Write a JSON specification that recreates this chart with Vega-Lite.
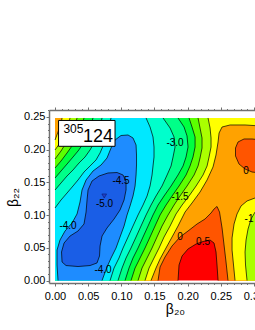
{
"$schema":"https://vega.github.io/schema/vega-lite/v6.json",
"width":206,"height":173,
"autosize":{"type":"none"},
"padding":{"left":49,"top":110,"right":0,"bottom":47},
"config":{"view":{"stroke":null},"font":"Liberation Sans","axis":{"domainColor":"#707070","tickColor":"#707070","labelColor":"#000","titleColor":"#000","grid":false,"labelFont":"Liberation Sans","titleFont":"Liberation Sans","titleFontWeight":"normal"}},
"resolve":{"axis":{"x":"independent","y":"independent"}},
"datasets":{
"poly":[
{"p":"b0","z":0.5,"o":1,"x":0,"y":0},{"p":"b0","z":0.5,"o":2,"x":0.3318,"y":0},{"p":"b0","z":0.5,"o":3,"x":0.3318,"y":0.2485},{"p":"b0","z":0.5,"o":4,"x":0,"y":0.2485},
{"p":"p1","z":0,"o":1,"x":0,"y":0},
{"p":"p1","z":0,"o":2,"x":0.1855,"y":0,"a":"c1"},{"p":"p1","z":0,"o":3,"x":0.187,"y":0.0237,"a":"c1"},{"p":"p1","z":0,"o":4,"x":0.1916,"y":0.0375,"a":"c1"},{"p":"p1","z":0,"o":5,"x":0.2006,"y":0.0482,"a":"c1"},{"p":"p1","z":0,"o":6,"x":0.2127,"y":0.0558,"a":"c1"},{"p":"p1","z":0,"o":7,"x":0.2232,"y":0.0596,"a":"c1"},{"p":"p1","z":0,"o":8,"x":0.2338,"y":0.0619,"a":"c1"},{"p":"p1","z":0,"o":9,"x":0.2398,"y":0.0573,"a":"c1"},{"p":"p1","z":0,"o":10,"x":0.2428,"y":0.0436,"a":"c1"},{"p":"p1","z":0,"o":11,"x":0.2443,"y":0.0237,"a":"c1"},{"p":"p1","z":0,"o":12,"x":0.2459,"y":0,"a":"c1"},
{"p":"p1","z":0,"o":13,"x":0.3318,"y":0},{"p":"p1","z":0,"o":14,"x":0.3318,"y":0.2485},{"p":"p1","z":0,"o":15,"x":0,"y":0.2485},
{"p":"p2","z":-0.5,"o":1,"x":0,"y":0},
{"p":"p2","z":-0.5,"o":2,"x":0.1554,"y":0,"a":"c2"},{"p":"p2","z":-0.5,"o":3,"x":0.1584,"y":0.0206,"a":"c2"},{"p":"p2","z":-0.5,"o":4,"x":0.1659,"y":0.0359,"a":"c2"},{"p":"p2","z":-0.5,"o":5,"x":0.1765,"y":0.0528,"a":"c2"},{"p":"p2","z":-0.5,"o":6,"x":0.1885,"y":0.0665,"a":"c2"},{"p":"p2","z":-0.5,"o":7,"x":0.2006,"y":0.0757,"a":"c2"},{"p":"p2","z":-0.5,"o":8,"x":0.2142,"y":0.0864,"a":"c2"},{"p":"p2","z":-0.5,"o":9,"x":0.2262,"y":0.094,"a":"c2"},{"p":"p2","z":-0.5,"o":10,"x":0.2353,"y":0.1032,"a":"c2"},{"p":"p2","z":-0.5,"o":11,"x":0.2398,"y":0.1093,"a":"c2"},{"p":"p2","z":-0.5,"o":12,"x":0.2443,"y":0.1132,"a":"c2"},{"p":"p2","z":-0.5,"o":13,"x":0.2481,"y":0.1047,"a":"c2"},{"p":"p2","z":-0.5,"o":14,"x":0.2519,"y":0.0803,"a":"c2"},{"p":"p2","z":-0.5,"o":15,"x":0.2549,"y":0.0543,"a":"c2"},{"p":"p2","z":-0.5,"o":16,"x":0.2579,"y":0.0283,"a":"c2"},{"p":"p2","z":-0.5,"o":17,"x":0.2609,"y":0,"a":"c2"},
{"p":"p2","z":-0.5,"o":18,"x":0.3318,"y":0},
{"p":"p2","z":-0.5,"o":19,"x":0.3318,"y":0.1644,"a":"c3"},{"p":"p2","z":-0.5,"o":20,"x":0.3092,"y":0.1644,"a":"c3"},{"p":"p2","z":-0.5,"o":21,"x":0.2971,"y":0.1659,"a":"c3"},{"p":"p2","z":-0.5,"o":22,"x":0.2866,"y":0.1705,"a":"c3"},{"p":"p2","z":-0.5,"o":23,"x":0.2775,"y":0.1781,"a":"c3"},{"p":"p2","z":-0.5,"o":24,"x":0.2722,"y":0.1904,"a":"c3"},{"p":"p2","z":-0.5,"o":25,"x":0.2722,"y":0.2026,"a":"c3"},{"p":"p2","z":-0.5,"o":26,"x":0.276,"y":0.2118,"a":"c3"},{"p":"p2","z":-0.5,"o":27,"x":0.2851,"y":0.2164,"a":"c3"},{"p":"p2","z":-0.5,"o":28,"x":0.2971,"y":0.2164,"a":"c3"},{"p":"p2","z":-0.5,"o":29,"x":0.3122,"y":0.2148,"a":"c3"},{"p":"p2","z":-0.5,"o":30,"x":0.3318,"y":0.2133,"a":"c3"},
{"p":"p2","z":-0.5,"o":31,"x":0.3318,"y":0.2485},{"p":"p2","z":-0.5,"o":32,"x":0,"y":0.2485},
{"p":"p3","z":-1,"o":1,"x":0,"y":0},
{"p":"p3","z":-1,"o":2,"x":0.1448,"y":0,"a":"c4"},{"p":"p3","z":-1,"o":3,"x":0.1523,"y":0.0191,"a":"c4"},{"p":"p3","z":-1,"o":4,"x":0.1584,"y":0.0329,"a":"c4"},{"p":"p3","z":-1,"o":5,"x":0.1674,"y":0.0497,"a":"c4"},{"p":"p3","z":-1,"o":6,"x":0.1765,"y":0.0665,"a":"c4"},{"p":"p3","z":-1,"o":7,"x":0.1855,"y":0.0833,"a":"c4"},{"p":"p3","z":-1,"o":8,"x":0.1961,"y":0.1047,"a":"c4"},{"p":"p3","z":-1,"o":9,"x":0.2066,"y":0.1185,"a":"c4"},{"p":"p3","z":-1,"o":10,"x":0.2187,"y":0.1353,"a":"c4"},{"p":"p3","z":-1,"o":11,"x":0.2293,"y":0.1537,"a":"c4"},{"p":"p3","z":-1,"o":12,"x":0.2383,"y":0.1736,"a":"c4"},{"p":"p3","z":-1,"o":13,"x":0.2428,"y":0.1919,"a":"c4"},{"p":"p3","z":-1,"o":14,"x":0.2459,"y":0.2118,"a":"c4"},{"p":"p3","z":-1,"o":15,"x":0.2474,"y":0.2255,"a":"c4"},{"p":"p3","z":-1,"o":16,"x":0.2519,"y":0.2347,"a":"c4"},{"p":"p3","z":-1,"o":17,"x":0.264,"y":0.2378,"a":"c4"},{"p":"p3","z":-1,"o":18,"x":0.2866,"y":0.2378,"a":"c4"},{"p":"p3","z":-1,"o":19,"x":0.3092,"y":0.2363,"a":"c4"},{"p":"p3","z":-1,"o":20,"x":0.3318,"y":0.2363,"a":"c4"},
{"p":"p3","z":-1,"o":21,"x":0.3318,"y":0.2485},
{"p":"p3","z":-1,"o":22,"x":0.0106,"y":0.2485,"a":"c5"},{"p":"p3","z":-1,"o":23,"x":0.009,"y":0.2393,"a":"c5"},{"p":"p3","z":-1,"o":24,"x":0.0045,"y":0.2271,"a":"c5"},{"p":"p3","z":-1,"o":25,"x":0,"y":0.2148,"a":"c5"},
{"p":"p3b","z":-1,"o":1,"x":0.2715,"y":0,"a":"c6"},{"p":"p3b","z":-1,"o":2,"x":0.2692,"y":0.0237,"a":"c6"},{"p":"p3b","z":-1,"o":3,"x":0.267,"y":0.0466,"a":"c6"},{"p":"p3b","z":-1,"o":4,"x":0.267,"y":0.065,"a":"c6"},{"p":"p3b","z":-1,"o":5,"x":0.27,"y":0.0864,"a":"c6"},{"p":"p3b","z":-1,"o":6,"x":0.2745,"y":0.1017,"a":"c6"},{"p":"p3b","z":-1,"o":7,"x":0.2805,"y":0.1139,"a":"c6"},{"p":"p3b","z":-1,"o":8,"x":0.2896,"y":0.1216,"a":"c6"},{"p":"p3b","z":-1,"o":9,"x":0.3017,"y":0.1262,"a":"c6"},{"p":"p3b","z":-1,"o":10,"x":0.3167,"y":0.1277,"a":"c6"},{"p":"p3b","z":-1,"o":11,"x":0.3318,"y":0.1292,"a":"c6"},{"p":"p3b","z":-1,"o":12,"x":0.3318,"y":0},
{"p":"p4","z":-1.5,"o":1,"x":0,"y":0},
{"p":"p4","z":-1.5,"o":2,"x":0.1357,"y":0,"a":"c7"},{"p":"p4","z":-1.5,"o":3,"x":0.1418,"y":0.0191,"a":"c7"},{"p":"p4","z":-1.5,"o":4,"x":0.1493,"y":0.0344,"a":"c7"},{"p":"p4","z":-1.5,"o":5,"x":0.1569,"y":0.0497,"a":"c7"},{"p":"p4","z":-1.5,"o":6,"x":0.1644,"y":0.0665,"a":"c7"},{"p":"p4","z":-1.5,"o":7,"x":0.1735,"y":0.0833,"a":"c7"},{"p":"p4","z":-1.5,"o":8,"x":0.1825,"y":0.1017,"a":"c7"},{"p":"p4","z":-1.5,"o":9,"x":0.1916,"y":0.1154,"a":"c7"},{"p":"p4","z":-1.5,"o":10,"x":0.2021,"y":0.1292,"a":"c7"},{"p":"p4","z":-1.5,"o":11,"x":0.2127,"y":0.1445,"a":"c7"},{"p":"p4","z":-1.5,"o":12,"x":0.2232,"y":0.1613,"a":"c7"},{"p":"p4","z":-1.5,"o":13,"x":0.2293,"y":0.1751,"a":"c7"},{"p":"p4","z":-1.5,"o":14,"x":0.2323,"y":0.1888,"a":"c7"},{"p":"p4","z":-1.5,"o":15,"x":0.2353,"y":0.2041,"a":"c7"},{"p":"p4","z":-1.5,"o":16,"x":0.2353,"y":0.2179,"a":"c7"},{"p":"p4","z":-1.5,"o":17,"x":0.2338,"y":0.2332,"a":"c7"},{"p":"p4","z":-1.5,"o":18,"x":0.2308,"y":0.2485,"a":"c7"},
{"p":"p4","z":-1.5,"o":19,"x":0.0226,"y":0.2485,"a":"c8"},{"p":"p4","z":-1.5,"o":20,"x":0.0196,"y":0.2363,"a":"c8"},{"p":"p4","z":-1.5,"o":21,"x":0.0151,"y":0.224,"a":"c8"},{"p":"p4","z":-1.5,"o":22,"x":0.0075,"y":0.2103,"a":"c8"},{"p":"p4","z":-1.5,"o":23,"x":0,"y":0.1996,"a":"c8"},
{"p":"p4b","z":-1.5,"o":1,"x":0.2896,"y":0,"a":"c9"},{"p":"p4b","z":-1.5,"o":2,"x":0.2873,"y":0.0237,"a":"c9"},{"p":"p4b","z":-1.5,"o":3,"x":0.2866,"y":0.0436,"a":"c9"},{"p":"p4b","z":-1.5,"o":4,"x":0.2881,"y":0.0619,"a":"c9"},{"p":"p4b","z":-1.5,"o":5,"x":0.2911,"y":0.0787,"a":"c9"},{"p":"p4b","z":-1.5,"o":6,"x":0.2956,"y":0.094,"a":"c9"},{"p":"p4b","z":-1.5,"o":7,"x":0.3017,"y":0.1047,"a":"c9"},{"p":"p4b","z":-1.5,"o":8,"x":0.3122,"y":0.1109,"a":"c9"},{"p":"p4b","z":-1.5,"o":9,"x":0.3318,"y":0.1124,"a":"c9"},{"p":"p4b","z":-1.5,"o":10,"x":0.3318,"y":0},
{"p":"p5","z":-2,"o":1,"x":0,"y":0},
{"p":"p5","z":-2,"o":2,"x":0.1252,"y":0,"a":"c10"},{"p":"p5","z":-2,"o":3,"x":0.1312,"y":0.0191,"a":"c10"},{"p":"p5","z":-2,"o":4,"x":0.1388,"y":0.0344,"a":"c10"},{"p":"p5","z":-2,"o":5,"x":0.1463,"y":0.0497,"a":"c10"},{"p":"p5","z":-2,"o":6,"x":0.1538,"y":0.0665,"a":"c10"},{"p":"p5","z":-2,"o":7,"x":0.1614,"y":0.0833,"a":"c10"},{"p":"p5","z":-2,"o":8,"x":0.1705,"y":0.1002,"a":"c10"},{"p":"p5","z":-2,"o":9,"x":0.1795,"y":0.1154,"a":"c10"},{"p":"p5","z":-2,"o":10,"x":0.1885,"y":0.1292,"a":"c10"},{"p":"p5","z":-2,"o":11,"x":0.1991,"y":0.1445,"a":"c10"},{"p":"p5","z":-2,"o":12,"x":0.2097,"y":0.1613,"a":"c10"},{"p":"p5","z":-2,"o":13,"x":0.2157,"y":0.1751,"a":"c10"},{"p":"p5","z":-2,"o":14,"x":0.2187,"y":0.1873,"a":"c10"},{"p":"p5","z":-2,"o":15,"x":0.2217,"y":0.2026,"a":"c10"},{"p":"p5","z":-2,"o":16,"x":0.2217,"y":0.2179,"a":"c10"},{"p":"p5","z":-2,"o":17,"x":0.2187,"y":0.2332,"a":"c10"},{"p":"p5","z":-2,"o":18,"x":0.2157,"y":0.2485,"a":"c10"},
{"p":"p5","z":-2,"o":19,"x":0.0332,"y":0.2485,"a":"c11"},{"p":"p5","z":-2,"o":20,"x":0.0302,"y":0.2378,"a":"c11"},{"p":"p5","z":-2,"o":21,"x":0.0241,"y":0.224,"a":"c11"},{"p":"p5","z":-2,"o":22,"x":0.0166,"y":0.2103,"a":"c11"},{"p":"p5","z":-2,"o":23,"x":0.009,"y":0.198,"a":"c11"},{"p":"p5","z":-2,"o":24,"x":0,"y":0.1858,"a":"c11"},
{"p":"p6","z":-2.5,"o":1,"x":0,"y":0},
{"p":"p6","z":-2.5,"o":2,"x":0.1146,"y":0,"a":"c12"},{"p":"p6","z":-2.5,"o":3,"x":0.1207,"y":0.0191,"a":"c12"},{"p":"p6","z":-2.5,"o":4,"x":0.1282,"y":0.0344,"a":"c12"},{"p":"p6","z":-2.5,"o":5,"x":0.1357,"y":0.0497,"a":"c12"},{"p":"p6","z":-2.5,"o":6,"x":0.1433,"y":0.0665,"a":"c12"},{"p":"p6","z":-2.5,"o":7,"x":0.1508,"y":0.0833,"a":"c12"},{"p":"p6","z":-2.5,"o":8,"x":0.1584,"y":0.1002,"a":"c12"},{"p":"p6","z":-2.5,"o":9,"x":0.1674,"y":0.1154,"a":"c12"},{"p":"p6","z":-2.5,"o":10,"x":0.1765,"y":0.1292,"a":"c12"},{"p":"p6","z":-2.5,"o":11,"x":0.187,"y":0.1445,"a":"c12"},{"p":"p6","z":-2.5,"o":12,"x":0.1976,"y":0.1613,"a":"c12"},{"p":"p6","z":-2.5,"o":13,"x":0.2036,"y":0.1751,"a":"c12"},{"p":"p6","z":-2.5,"o":14,"x":0.2081,"y":0.1888,"a":"c12"},{"p":"p6","z":-2.5,"o":15,"x":0.2112,"y":0.2041,"a":"c12"},{"p":"p6","z":-2.5,"o":16,"x":0.2112,"y":0.2194,"a":"c12"},{"p":"p6","z":-2.5,"o":17,"x":0.2066,"y":0.2347,"a":"c12"},{"p":"p6","z":-2.5,"o":18,"x":0.2021,"y":0.2485,"a":"c12"},
{"p":"p6","z":-2.5,"o":19,"x":0.0437,"y":0.2485,"a":"c13"},{"p":"p6","z":-2.5,"o":20,"x":0.0392,"y":0.2317,"a":"c13"},{"p":"p6","z":-2.5,"o":21,"x":0.0332,"y":0.2179,"a":"c13"},{"p":"p6","z":-2.5,"o":22,"x":0.0256,"y":0.2057,"a":"c13"},{"p":"p6","z":-2.5,"o":23,"x":0.0181,"y":0.195,"a":"c13"},{"p":"p6","z":-2.5,"o":24,"x":0.009,"y":0.1827,"a":"c13"},{"p":"p6","z":-2.5,"o":25,"x":0,"y":0.172,"a":"c13"},
{"p":"p7","z":-3,"o":1,"x":0,"y":0},
{"p":"p7","z":-3,"o":2,"x":0.1056,"y":0,"a":"c14"},{"p":"p7","z":-3,"o":3,"x":0.1116,"y":0.0191,"a":"c14"},{"p":"p7","z":-3,"o":4,"x":0.1176,"y":0.0344,"a":"c14"},{"p":"p7","z":-3,"o":5,"x":0.1252,"y":0.0497,"a":"c14"},{"p":"p7","z":-3,"o":6,"x":0.1327,"y":0.0665,"a":"c14"},{"p":"p7","z":-3,"o":7,"x":0.1403,"y":0.0833,"a":"c14"},{"p":"p7","z":-3,"o":8,"x":0.1478,"y":0.1002,"a":"c14"},{"p":"p7","z":-3,"o":9,"x":0.1554,"y":0.1154,"a":"c14"},{"p":"p7","z":-3,"o":10,"x":0.1644,"y":0.1292,"a":"c14"},{"p":"p7","z":-3,"o":11,"x":0.175,"y":0.1445,"a":"c14"},{"p":"p7","z":-3,"o":12,"x":0.1855,"y":0.1613,"a":"c14"},{"p":"p7","z":-3,"o":13,"x":0.1931,"y":0.1751,"a":"c14"},{"p":"p7","z":-3,"o":14,"x":0.1976,"y":0.1888,"a":"c14"},{"p":"p7","z":-3,"o":15,"x":0.2006,"y":0.2041,"a":"c14"},{"p":"p7","z":-3,"o":16,"x":0.1991,"y":0.221,"a":"c14"},{"p":"p7","z":-3,"o":17,"x":0.1946,"y":0.2347,"a":"c14"},{"p":"p7","z":-3,"o":18,"x":0.1855,"y":0.2485,"a":"c14"},
{"p":"p7","z":-3,"o":19,"x":0.0573,"y":0.2485,"a":"c15"},{"p":"p7","z":-3,"o":20,"x":0.0528,"y":0.2332,"a":"c15"},{"p":"p7","z":-3,"o":21,"x":0.0483,"y":0.221,"a":"c15"},{"p":"p7","z":-3,"o":22,"x":0.0422,"y":0.2087,"a":"c15"},{"p":"p7","z":-3,"o":23,"x":0.0347,"y":0.198,"a":"c15"},{"p":"p7","z":-3,"o":24,"x":0.0271,"y":0.1888,"a":"c15"},{"p":"p7","z":-3,"o":25,"x":0.0181,"y":0.1781,"a":"c15"},{"p":"p7","z":-3,"o":26,"x":0.009,"y":0.1674,"a":"c15"},{"p":"p7","z":-3,"o":27,"x":0,"y":0.1567,"a":"c15"},
{"p":"p8","z":-3.5,"o":1,"x":0,"y":0},
{"p":"p8","z":-3.5,"o":2,"x":0.095,"y":0,"a":"c16"},{"p":"p8","z":-3.5,"o":3,"x":0.1011,"y":0.0191,"a":"c16"},{"p":"p8","z":-3.5,"o":4,"x":0.1071,"y":0.0344,"a":"c16"},{"p":"p8","z":-3.5,"o":5,"x":0.1146,"y":0.0497,"a":"c16"},{"p":"p8","z":-3.5,"o":6,"x":0.1222,"y":0.0665,"a":"c16"},{"p":"p8","z":-3.5,"o":7,"x":0.1297,"y":0.0833,"a":"c16"},{"p":"p8","z":-3.5,"o":8,"x":0.1373,"y":0.1002,"a":"c16"},{"p":"p8","z":-3.5,"o":9,"x":0.1448,"y":0.1154,"a":"c16"},{"p":"p8","z":-3.5,"o":10,"x":0.1523,"y":0.1292,"a":"c16"},{"p":"p8","z":-3.5,"o":11,"x":0.1614,"y":0.1445,"a":"c16"},{"p":"p8","z":-3.5,"o":12,"x":0.169,"y":0.1613,"a":"c16"},{"p":"p8","z":-3.5,"o":13,"x":0.175,"y":0.1751,"a":"c16"},{"p":"p8","z":-3.5,"o":14,"x":0.178,"y":0.1888,"a":"c16"},{"p":"p8","z":-3.5,"o":15,"x":0.181,"y":0.2041,"a":"c16"},{"p":"p8","z":-3.5,"o":16,"x":0.1795,"y":0.2194,"a":"c16"},{"p":"p8","z":-3.5,"o":17,"x":0.1735,"y":0.2332,"a":"c16"},{"p":"p8","z":-3.5,"o":18,"x":0.1629,"y":0.2485,"a":"c16"},
{"p":"p8","z":-3.5,"o":19,"x":0.0709,"y":0.2485,"a":"c17"},{"p":"p8","z":-3.5,"o":20,"x":0.0679,"y":0.2347,"a":"c17"},{"p":"p8","z":-3.5,"o":21,"x":0.0633,"y":0.2225,"a":"c17"},{"p":"p8","z":-3.5,"o":22,"x":0.0588,"y":0.2103,"a":"c17"},{"p":"p8","z":-3.5,"o":23,"x":0.0528,"y":0.1996,"a":"c17"},{"p":"p8","z":-3.5,"o":24,"x":0.0452,"y":0.1888,"a":"c17"},{"p":"p8","z":-3.5,"o":25,"x":0.0362,"y":0.1797,"a":"c17"},{"p":"p8","z":-3.5,"o":26,"x":0.0271,"y":0.169,"a":"c17"},{"p":"p8","z":-3.5,"o":27,"x":0.0181,"y":0.1598,"a":"c17"},{"p":"p8","z":-3.5,"o":28,"x":0.009,"y":0.1491,"a":"c17"},{"p":"p8","z":-3.5,"o":29,"x":0,"y":0.1384,"a":"c17"},
{"p":"p9","z":-4,"o":1,"x":0,"y":0},
{"p":"p9","z":-4,"o":2,"x":0.083,"y":0,"a":"c18"},{"p":"p9","z":-4,"o":3,"x":0.089,"y":0.0191,"a":"c18"},{"p":"p9","z":-4,"o":4,"x":0.0965,"y":0.0344,"a":"c18"},{"p":"p9","z":-4,"o":5,"x":0.1026,"y":0.0497,"a":"c18"},{"p":"p9","z":-4,"o":6,"x":0.1101,"y":0.0665,"a":"c18"},{"p":"p9","z":-4,"o":7,"x":0.1176,"y":0.0833,"a":"c18"},{"p":"p9","z":-4,"o":8,"x":0.1252,"y":0.1002,"a":"c18"},{"p":"p9","z":-4,"o":9,"x":0.1327,"y":0.1154,"a":"c18"},{"p":"p9","z":-4,"o":10,"x":0.1388,"y":0.1292,"a":"c18"},{"p":"p9","z":-4,"o":11,"x":0.1433,"y":0.1445,"a":"c18"},{"p":"p9","z":-4,"o":12,"x":0.1463,"y":0.1613,"a":"c18"},{"p":"p9","z":-4,"o":13,"x":0.1478,"y":0.1751,"a":"c18"},{"p":"p9","z":-4,"o":14,"x":0.1493,"y":0.1888,"a":"c18"},{"p":"p9","z":-4,"o":15,"x":0.1493,"y":0.2041,"a":"c18"},{"p":"p9","z":-4,"o":16,"x":0.1478,"y":0.2194,"a":"c18"},{"p":"p9","z":-4,"o":17,"x":0.1433,"y":0.2347,"a":"c18"},{"p":"p9","z":-4,"o":18,"x":0.1373,"y":0.2485,"a":"c18"},
{"p":"p9","z":-4,"o":19,"x":0.0845,"y":0.2485,"a":"c19"},{"p":"p9","z":-4,"o":20,"x":0.083,"y":0.2424,"a":"c19"},{"p":"p9","z":-4,"o":21,"x":0.0799,"y":0.2301,"a":"c19"},{"p":"p9","z":-4,"o":22,"x":0.0769,"y":0.2179,"a":"c19"},{"p":"p9","z":-4,"o":23,"x":0.0724,"y":0.2057,"a":"c19"},{"p":"p9","z":-4,"o":24,"x":0.0679,"y":0.195,"a":"c19"},{"p":"p9","z":-4,"o":25,"x":0.0618,"y":0.1843,"a":"c19"},{"p":"p9","z":-4,"o":26,"x":0.0528,"y":0.1751,"a":"c19"},{"p":"p9","z":-4,"o":27,"x":0.0437,"y":0.1659,"a":"c19"},{"p":"p9","z":-4,"o":28,"x":0.0347,"y":0.1537,"a":"c19"},{"p":"p9","z":-4,"o":29,"x":0.0271,"y":0.1445,"a":"c19"},{"p":"p9","z":-4,"o":30,"x":0.0181,"y":0.1338,"a":"c19"},{"p":"p9","z":-4,"o":31,"x":0.009,"y":0.1231,"a":"c19"},{"p":"p9","z":-4,"o":32,"x":0,"y":0.1109,"a":"c19"},
{"p":"p10","z":-4.5,"o":1,"x":0.0045,"y":0,"a":"c20"},{"p":"p10","z":-4.5,"o":2,"x":0.003,"y":0.0237,"a":"c20"},{"p":"p10","z":-4.5,"o":3,"x":0.003,"y":0.0466,"a":"c20"},{"p":"p10","z":-4.5,"o":4,"x":0.0075,"y":0.0619,"a":"c20"},{"p":"p10","z":-4.5,"o":5,"x":0.0151,"y":0.0757,"a":"c20"},{"p":"p10","z":-4.5,"o":6,"x":0.0256,"y":0.0879,"a":"c20"},{"p":"p10","z":-4.5,"o":7,"x":0.0332,"y":0.1017,"a":"c20"},{"p":"p10","z":-4.5,"o":8,"x":0.0377,"y":0.12,"a":"c20"},{"p":"p10","z":-4.5,"o":9,"x":0.0407,"y":0.1384,"a":"c20"},{"p":"p10","z":-4.5,"o":10,"x":0.0468,"y":0.1537,"a":"c20"},{"p":"p10","z":-4.5,"o":11,"x":0.0573,"y":0.1674,"a":"c20"},{"p":"p10","z":-4.5,"o":12,"x":0.0694,"y":0.1766,"a":"c20"},{"p":"p10","z":-4.5,"o":13,"x":0.0784,"y":0.1873,"a":"c20"},{"p":"p10","z":-4.5,"o":14,"x":0.0845,"y":0.2026,"a":"c20"},{"p":"p10","z":-4.5,"o":15,"x":0.0905,"y":0.2148,"a":"c20"},{"p":"p10","z":-4.5,"o":16,"x":0.0995,"y":0.2217,"a":"c20"},{"p":"p10","z":-4.5,"o":17,"x":0.1101,"y":0.2225,"a":"c20"},{"p":"p10","z":-4.5,"o":18,"x":0.1176,"y":0.2179,"a":"c20"},{"p":"p10","z":-4.5,"o":19,"x":0.1222,"y":0.2072,"a":"c20"},{"p":"p10","z":-4.5,"o":20,"x":0.1229,"y":0.1919,"a":"c20"},{"p":"p10","z":-4.5,"o":21,"x":0.1229,"y":0.1766,"a":"c20"},{"p":"p10","z":-4.5,"o":22,"x":0.1222,"y":0.1613,"a":"c20"},{"p":"p10","z":-4.5,"o":23,"x":0.1207,"y":0.1445,"a":"c20"},{"p":"p10","z":-4.5,"o":24,"x":0.1176,"y":0.1292,"a":"c20"},{"p":"p10","z":-4.5,"o":25,"x":0.1131,"y":0.1139,"a":"c20"},{"p":"p10","z":-4.5,"o":26,"x":0.1086,"y":0.1002,"a":"c20"},{"p":"p10","z":-4.5,"o":27,"x":0.1041,"y":0.0833,"a":"c20"},{"p":"p10","z":-4.5,"o":28,"x":0.098,"y":0.0665,"a":"c20"},{"p":"p10","z":-4.5,"o":29,"x":0.092,"y":0.0497,"a":"c20"},{"p":"p10","z":-4.5,"o":30,"x":0.0845,"y":0.0344,"a":"c20"},{"p":"p10","z":-4.5,"o":31,"x":0.0784,"y":0.0206,"a":"c20"},{"p":"p10","z":-4.5,"o":32,"x":0.0709,"y":0,"a":"c20"},
{"p":"p11","z":-5,"o":1,"x":0.0166,"y":0.0229,"a":"c21"},{"p":"p11","z":-5,"o":2,"x":0.0106,"y":0.0283,"a":"c21"},{"p":"p11","z":-5,"o":3,"x":0.0098,"y":0.0436,"a":"c21"},{"p":"p11","z":-5,"o":4,"x":0.0136,"y":0.0573,"a":"c21"},{"p":"p11","z":-5,"o":5,"x":0.0226,"y":0.068,"a":"c21"},{"p":"p11","z":-5,"o":6,"x":0.0347,"y":0.0757,"a":"c21"},{"p":"p11","z":-5,"o":7,"x":0.0437,"y":0.0864,"a":"c21"},{"p":"p11","z":-5,"o":8,"x":0.0468,"y":0.1047,"a":"c21"},{"p":"p11","z":-5,"o":9,"x":0.0483,"y":0.1231,"a":"c21"},{"p":"p11","z":-5,"o":10,"x":0.0498,"y":0.1384,"a":"c21"},{"p":"p11","z":-5,"o":11,"x":0.0558,"y":0.1521,"a":"c21"},{"p":"p11","z":-5,"o":12,"x":0.0664,"y":0.1598,"a":"c21"},{"p":"p11","z":-5,"o":13,"x":0.0799,"y":0.1644,"a":"c21"},{"p":"p11","z":-5,"o":14,"x":0.0935,"y":0.1651,"a":"c21"},{"p":"p11","z":-5,"o":15,"x":0.1026,"y":0.1613,"a":"c21"},{"p":"p11","z":-5,"o":16,"x":0.1071,"y":0.1521,"a":"c21"},{"p":"p11","z":-5,"o":17,"x":0.1071,"y":0.1384,"a":"c21"},{"p":"p11","z":-5,"o":18,"x":0.1041,"y":0.1231,"a":"c21"},{"p":"p11","z":-5,"o":19,"x":0.098,"y":0.1078,"a":"c21"},{"p":"p11","z":-5,"o":20,"x":0.089,"y":0.094,"a":"c21"},{"p":"p11","z":-5,"o":21,"x":0.0784,"y":0.0803,"a":"c21"},{"p":"p11","z":-5,"o":22,"x":0.0709,"y":0.068,"a":"c21"},{"p":"p11","z":-5,"o":23,"x":0.0679,"y":0.0528,"a":"c21"},{"p":"p11","z":-5,"o":24,"x":0.0671,"y":0.0375,"a":"c21"},{"p":"p11","z":-5,"o":25,"x":0.0633,"y":0.0268,"a":"c21"},{"p":"p11","z":-5,"o":26,"x":0.0528,"y":0.0229,"a":"c21"},{"p":"p11","z":-5,"o":27,"x":0.0347,"y":0.0214,"a":"c21"},{"p":"p11","z":-5,"o":28,"x":0.0166,"y":0.0229,"a":"c21"}
],
"labels":[
{"t":"-4.5","x":0.0995,"y":0.1521},{"t":"-5.0","x":0.0747,"y":0.117},{"t":"-4.0","x":0.0196,"y":0.0833},{"t":"-4.0","x":0.0724,"y":0.0161},{"t":"-3.0","x":0.181,"y":0.2103},{"t":"-1.5","x":0.1885,"y":0.1284},{"t":"0","x":0.2881,"y":0.1674},{"t":"0","x":0.1885,"y":0.0665},{"t":"0.5","x":0.2232,"y":0.0589},{"t":"-1","x":0.2926,"y":0.094}
]
},
"layer":[
{"data":{"name":"poly"},
 "mark":{"type":"line","filled":true,"clip":true},
 "encoding":{
  "x":{"field":"x","type":"quantitative","scale":{"domain":[-0.0091,0.3016],"nice":false,"zero":false},
       "axis":{"orient":"bottom","values":[0,0.05,0.1,0.15,0.2,0.25,0.3],"format":".2f","tickSize":3,"labelPadding":4,"labelFontSize":11,"domainWidth":1.5,"labelFlush":false,"labelOverlap":false,"title":"β₂₀","titleFontSize":14,"titleX":126,"titleY":30,"titleBaseline":"alphabetic"}},
  "y":{"field":"y","type":"quantitative","scale":{"domain":[-0.0038,0.2607],"nice":false,"zero":false},
       "axis":{"orient":"left","values":[0,0.05,0.1,0.15,0.2,0.25],"format":".2f","tickSize":3,"labelPadding":1,"labelFontSize":11,"domainWidth":1.5,"labelOverlap":false,"title":"β₂₂","titleFontSize":14,"titleAngle":270,"titleX":-32,"titleY":87,"titleBaseline":"alphabetic"}},
  "color":{"field":"z","type":"ordinal","legend":null,"scale":{"domain":[0.5,0,-0.5,-1,-1.5,-2,-2.5,-3,-3.5,-4,-4.5,-5],"range":["#ff0000","#ff5500","#ffa200","#ffff00","#aaff00","#5cff00","#00ff40","#00ff88","#00ffcc","#00e8ff","#1e8cff","#1a5ee6"]}},
  "detail":{"field":"p"},
  "order":{"field":"o","type":"quantitative"}
 }},
{"data":{"name":"poly"},
 "transform":[{"filter":"isValid(datum.a)"}],
 "mark":{"type":"line","color":"#000","strokeWidth":0.7,"clip":true},
 "encoding":{
  "x":{"field":"x","type":"quantitative","scale":{"domain":[-0.0091,0.3016],"nice":false,"zero":false},
       "axis":{"orient":"bottom","values":[0,0.01,0.02,0.03,0.04,0.05,0.06,0.07,0.08,0.09,0.1,0.11,0.12,0.13,0.14,0.15,0.16,0.17,0.18,0.19,0.2,0.21,0.22,0.23,0.24,0.25,0.26,0.27,0.28,0.29,0.3],"labels":false,"domain":false,"tickSize":1.5,"title":null}},
  "y":{"field":"y","type":"quantitative","scale":{"domain":[-0.0038,0.2607],"nice":false,"zero":false},
       "axis":{"orient":"left","values":[0,0.01,0.02,0.03,0.04,0.05,0.06,0.07,0.08,0.09,0.1,0.11,0.12,0.13,0.14,0.15,0.16,0.17,0.18,0.19,0.2,0.21,0.22,0.23,0.24,0.25,0.26],"labels":false,"domain":false,"tickSize":1.5,"title":null}},
  "detail":{"field":"a"},
  "order":{"field":"o","type":"quantitative"}
 }},
{"data":{"name":"labels"},
 "mark":{"type":"text","fontSize":10,"font":"Liberation Sans","color":"#000","align":"center","baseline":"middle"},
 "encoding":{
  "x":{"field":"x","type":"quantitative","scale":{"domain":[-0.0091,0.3016],"nice":false,"zero":false},
       "axis":{"orient":"top","values":[0,0.05,0.1,0.15,0.2,0.25,0.3],"labels":false,"tickSize":3,"domainWidth":1.5,"title":null}},
  "y":{"field":"y","type":"quantitative","scale":{"domain":[-0.0038,0.2607],"nice":false,"zero":false},"axis":null},
  "text":{"field":"t"}
 }},
{"data":{"values":[{"x":0.0742,"y":0.1292}]},
 "mark":{"type":"point","shape":"triangle-down","size":22,"filled":true,"fill":"#2040c8","stroke":"#0a1a70","strokeWidth":0.6,"opacity":1},
 "encoding":{
  "x":{"field":"x","type":"quantitative","scale":{"domain":[-0.0091,0.3016],"nice":false,"zero":false},
       "axis":{"orient":"top","values":[0,0.01,0.02,0.03,0.04,0.05,0.06,0.07,0.08,0.09,0.1,0.11,0.12,0.13,0.14,0.15,0.16,0.17,0.18,0.19,0.2,0.21,0.22,0.23,0.24,0.25,0.26,0.27,0.28,0.29,0.3],"labels":false,"domain":false,"tickSize":1.5,"title":null}},
  "y":{"field":"y","type":"quantitative","scale":{"domain":[-0.0038,0.2607],"nice":false,"zero":false},"axis":null}
 }},
{"data":{"values":[{"x":0.0053,"x2":0.0905,"y":0.2052,"y2":0.2447}]},
 "mark":{"type":"rect","fill":"#ffffff","stroke":"#000","strokeWidth":1},
 "encoding":{
  "x":{"field":"x","type":"quantitative","scale":{"domain":[-0.0091,0.3016],"nice":false,"zero":false},"axis":null},
  "x2":{"field":"x2"},
  "y":{"field":"y","type":"quantitative","scale":{"domain":[-0.0038,0.2607],"nice":false,"zero":false},"axis":null},
  "y2":{"field":"y2"}
 }},
{"data":{"values":[{"t":"305","x":0.0126,"y":0.2255}]},
 "mark":{"type":"text","fontSize":12,"font":"Liberation Sans","color":"#000","align":"left","baseline":"alphabetic"},
 "encoding":{
  "x":{"field":"x","type":"quantitative","scale":{"domain":[-0.0091,0.3016],"nice":false,"zero":false},"axis":null},
  "y":{"field":"y","type":"quantitative","scale":{"domain":[-0.0038,0.2607],"nice":false,"zero":false},"axis":null},
  "text":{"field":"t"}
 }},
{"data":{"values":[{"t":"124","x":0.0422,"y":0.2118}]},
 "mark":{"type":"text","fontSize":18,"font":"Liberation Sans","color":"#000","align":"left","baseline":"alphabetic"},
 "encoding":{
  "x":{"field":"x","type":"quantitative","scale":{"domain":[-0.0091,0.3016],"nice":false,"zero":false},"axis":null},
  "y":{"field":"y","type":"quantitative","scale":{"domain":[-0.0038,0.2607],"nice":false,"zero":false},"axis":null},
  "text":{"field":"t"}
 }}
]
}
